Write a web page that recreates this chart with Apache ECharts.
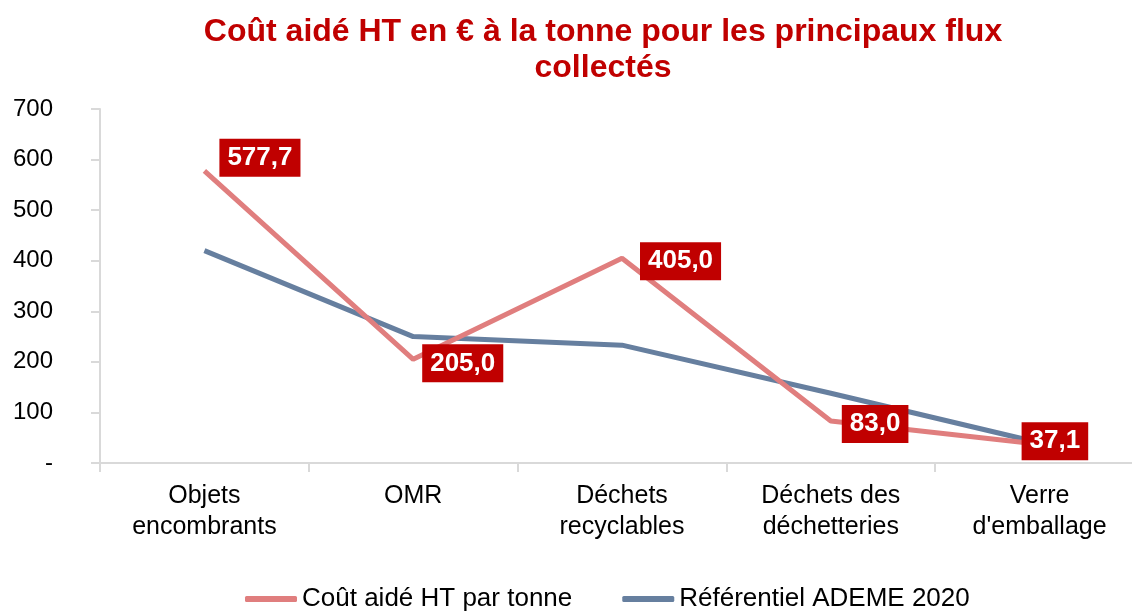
<!DOCTYPE html>
<html><head><meta charset="utf-8">
<script src="https://cdn.jsdelivr.net/npm/echarts@6/dist/echarts.min.js"></script>
<style>html,body{margin:0;padding:0;background:#fff}#c{width:1132px;height:611px}</style>
</head><body><div id="c"></div>
<script>
const categories = ['Objets\nencombrants', 'OMR', 'Déchets\nrecyclables', 'Déchets des\ndéchetteries', 'Verre\nd\'emballage'];
const coutAide = [577.7, 205.0, 405.0, 83.0, 37.1];
const referentiel = [420, 250, 233, 138, 40];
const yTicks = [0, 100, 200, 300, 400, 500, 600, 700];
const labelOffsets = [[10, -13], [4, 4], [13, 3], [6, 3], [-23, -3]];

const chart = echarts.init(document.getElementById('c'));
const font = 'Liberation Sans, Arial, sans-serif';
chart.setOption({
  animation: false,
  title: {
    text: 'Coût aidé HT en € à la tonne pour les principaux flux\ncollectés',
    left: 598, top: 9, textAlign: 'center',
    textStyle: { color: '#C00000', fontFamily: font, fontWeight: 'bold', fontSize: 32, lineHeight: 36 }
  },
  grid: { left: 100, width: 1044, top: 109, bottom: 148, outerBoundsMode: 'none', containLabel: false },
  legend: {
    bottom: -6, left: 240, itemGap: 50, itemWidth: 52, itemHeight: 6,
    icon: 'roundRect',
    textStyle: { fontFamily: font, fontSize: 26, color: '#000' },
    data: ['Coût aidé HT par tonne', 'Référentiel ADEME 2020']
  },
  xAxis: {
    type: 'category', data: categories, boundaryGap: true,
    axisLine: { lineStyle: { color: '#d9d9d9', width: 2 } },
    axisTick: { show: true, length: 9, lineStyle: { color: '#d9d9d9', width: 2 } },
    axisLabel: { fontFamily: font, fontSize: 25, color: '#000', lineHeight: 31, margin: 18 },
    splitLine: { show: false }
  },
  yAxis: {
    type: 'value', min: 0, max: 700, interval: 100,
    axisLine: { show: true, lineStyle: { color: '#d9d9d9', width: 2 } },
    axisTick: { show: true, length: 9, inside: false, lineStyle: { color: '#d9d9d9', width: 2 } },
    axisLabel: { fontFamily: font, fontSize: 24, color: '#000', margin: 47,
      formatter: v => (yTicks.includes(v) ? (v === 0 ? '-' : String(v)) : '') },
    splitLine: { show: false }
  },
  series: [
    {
      name: 'Coût aidé HT par tonne', type: 'line', symbol: 'circle', symbolSize: 0.01, showSymbol: true, z: 3,
      lineStyle: { color: '#E07E7E', width: 5 }, itemStyle: { color: '#E07E7E' },
      data: coutAide.map((v, i) => ({
        value: v,
        label: { show: true, position: 'right', offset: labelOffsets[i],
          formatter: p => Number(p.value).toFixed(1).replace('.', ','),
          backgroundColor: '#C00000', color: '#fff', fontFamily: font, fontWeight: 'bold', fontSize: 26,
          lineHeight: 26, padding: [6, 8, 6, 8] }
      }))
    },
    {
      name: 'Référentiel ADEME 2020', type: 'line', symbol: 'none', z: 2,
      lineStyle: { color: '#667F9F', width: 5 }, itemStyle: { color: '#667F9F' },
      data: referentiel
    }
  ]
});
</script></body></html>
